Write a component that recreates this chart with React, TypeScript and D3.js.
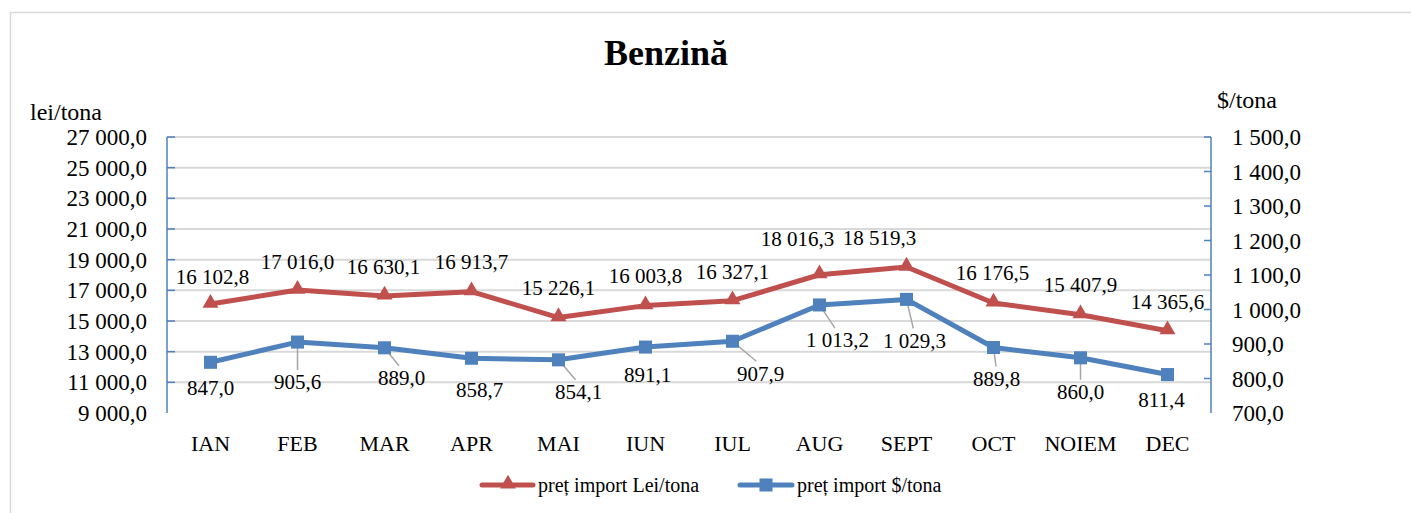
import React from 'react'
import * as d3 from 'd3'

const months = ['IAN', 'FEB', 'MAR', 'APR', 'MAI', 'IUN', 'IUL', 'AUG', 'SEPT', 'OCT', 'NOIEM', 'DEC']
const leiValues = [16102.8, 17016.0, 16630.1, 16913.7, 15226.1, 16003.8, 16327.1, 18016.3, 18519.3, 16176.5, 15407.9, 14365.6]
const usdValues = [847.0, 905.6, 889.0, 858.7, 854.1, 891.1, 907.9, 1013.2, 1029.3, 889.8, 860.0, 811.4]
const leiTicks = [9000, 11000, 13000, 15000, 17000, 19000, 21000, 23000, 25000, 27000]
const usdTicks = [700, 800, 900, 1000, 1100, 1200, 1300, 1400, 1500]

// label nudges (px), as placed in the original
const leiLabelDx = [2, 0, -1, 0, 0, 0, 0, -22, -27, -1, 0, 0]
const leiLabelDy = [-27, -28, -29, -30, -30, -30, -29, -36, -29, -30, -30, -29]
const usdLabelDx = [0, 0, 17, 8, 20, 2, 28, 18, 8, 3, 0, -6]
const usdLabelDy = [25, 40, 30, 31, 32, 28, 32, 35, 41, 31, 34, 25]
const usdLeader = [false, true, true, false, true, false, true, true, true, true, true, false]

const RED = '#C0504D'
const BLUE = '#4F81BD'
const FONT = '"Liberation Serif", "Times New Roman", serif'

const locale = d3.formatLocale({ decimal: ',', thousands: ' ', grouping: [3], currency: ['', ''] })
const fmt = locale.format(',.1f')

export default function App() {
  const width = 1411
  const height = 513
  const left = 167
  const right = 1211
  const top = 137
  const bottom = 413

  const x = d3.scaleBand().domain(months).range([left, right])
  const cx = (m: string) => (x(m) as number) + x.bandwidth() / 2
  const yLei = d3.scaleLinear().domain([9000, 27000]).range([bottom, top])
  const yUsd = d3.scaleLinear().domain([700, 1500]).range([bottom, top])

  const leiLine = d3
    .line<number>()
    .x((_, i) => cx(months[i]))
    .y((d) => yLei(d))
  const usdLine = d3
    .line<number>()
    .x((_, i) => cx(months[i]))
    .y((d) => yUsd(d))

  const tri = d3.symbol(d3.symbolTriangle, 110)()
  const sq = d3.symbol(d3.symbolSquare, 170)()

  return (
    <svg width={width} height={height} style={{ position: 'absolute', left: 0, top: 0 }} fontFamily={FONT}>
      <rect x={0} y={0} width={width} height={height} fill="#fff" />
      <rect x={10.5} y={12.5} width={1420} height={540} fill="none" stroke="#D9D9D9" strokeWidth={1.5} />

      <text x={666} y={65} textAnchor="middle" fontSize={36} fontWeight="bold">
        Benzină
      </text>
      <text x={30} y={120} fontSize={24}>
        lei/tona
      </text>
      <text x={1217} y={108} fontSize={24}>
        $/tona
      </text>

      {/* gridlines */}
      {leiTicks.slice(1).map((t) => (
        <line key={t} x1={left} x2={right} y1={yLei(t)} y2={yLei(t)} stroke="#D9D9D9" strokeWidth={2} />
      ))}

      {/* left axis */}
      <line x1={left} x2={left} y1={top} y2={bottom} stroke={BLUE} strokeWidth={1.5} />
      {leiTicks.slice(1).map((t) => (
        <line key={t} x1={left} x2={left + 8} y1={yLei(t)} y2={yLei(t)} stroke={BLUE} strokeWidth={1.5} />
      ))}
      {leiTicks.map((t) => (
        <text key={t} x={147} y={yLei(t)} dy="0.35em" textAnchor="end" fontSize={23}>
          {fmt(t)}
        </text>
      ))}

      {/* right axis */}
      <line x1={right} x2={right} y1={top} y2={bottom} stroke={BLUE} strokeWidth={1.5} />
      {usdTicks.slice(1).map((t) => (
        <line key={t} x1={right - 7} x2={right} y1={yUsd(t)} y2={yUsd(t)} stroke={BLUE} strokeWidth={1.5} />
      ))}
      {usdTicks.map((t) => (
        <text key={t} x={1232} y={yUsd(t)} dy="0.35em" fontSize={23}>
          {fmt(t)}
        </text>
      ))}

      {/* category labels */}
      {months.map((m) => (
        <text key={m} x={cx(m)} y={451} textAnchor="middle" fontSize={22}>
          {m}
        </text>
      ))}

      {/* leader lines */}
      {usdValues.map((v, i) =>
        usdLeader[i] ? (
          <line
            key={i}
            x1={cx(months[i])}
            y1={yUsd(v)}
            x2={cx(months[i]) + usdLabelDx[i] * 0.85}
            y2={yUsd(v) + usdLabelDy[i] - 12}
            stroke="#A6A6A6"
            strokeWidth={1.5}
          />
        ) : null
      )}

      {/* series */}
      <path d={leiLine(leiValues) as string} fill="none" stroke={RED} strokeWidth={5} strokeLinejoin="round" />
      {leiValues.map((v, i) => (
        <path key={i} d={tri as string} transform={`translate(${cx(months[i])},${yLei(v) - 1})`} fill={RED} />
      ))}
      <path d={usdLine(usdValues) as string} fill="none" stroke={BLUE} strokeWidth={5} strokeLinejoin="round" />
      {usdValues.map((v, i) => (
        <path key={i} d={sq as string} transform={`translate(${cx(months[i])},${yUsd(v)})`} fill={BLUE} />
      ))}

      {/* data labels */}
      {leiValues.map((v, i) => (
        <text
          key={i}
          x={cx(months[i]) + leiLabelDx[i]}
          y={yLei(v) + leiLabelDy[i]}
          dy="0.35em"
          textAnchor="middle"
          fontSize={21}
        >
          {fmt(v)}
        </text>
      ))}
      {usdValues.map((v, i) => (
        <text
          key={i}
          x={cx(months[i]) + usdLabelDx[i]}
          y={yUsd(v) + usdLabelDy[i]}
          dy="0.35em"
          textAnchor="middle"
          fontSize={21}
        >
          {fmt(v)}
        </text>
      ))}

      {/* legend */}
      <line x1={482} x2={533} y1={485} y2={485} stroke={RED} strokeWidth={5} strokeLinecap="round" />
      <path d={tri as string} transform="translate(508,484)" fill={RED} />
      <text x={538} y={492} fontSize={20}>
        preț import Lei/tona
      </text>
      <line x1={740} x2={792} y1={485} y2={485} stroke={BLUE} strokeWidth={5} strokeLinecap="round" />
      <path d={sq as string} transform="translate(766,485)" fill={BLUE} />
      <text x={797} y={492} fontSize={20}>
        preț import $/tona
      </text>
    </svg>
  )
}
